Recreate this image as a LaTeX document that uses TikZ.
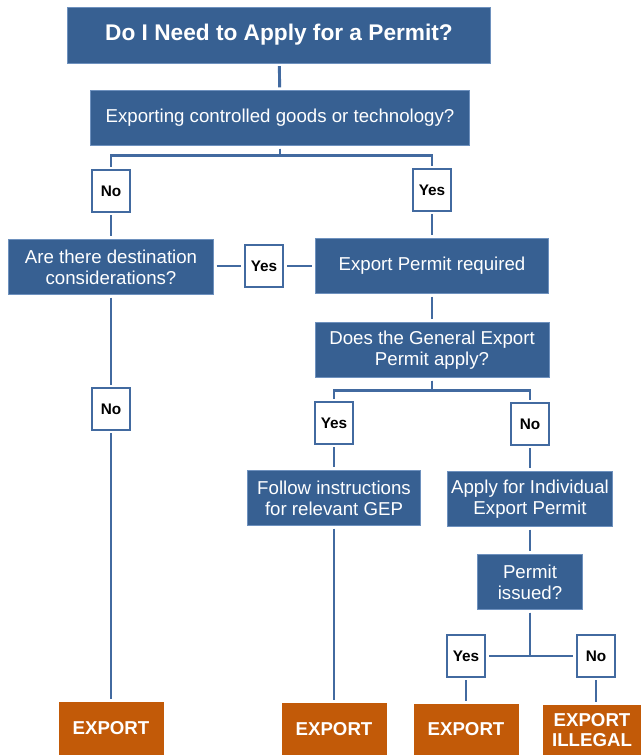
\documentclass[tikz,border=0pt]{standalone}
\usepackage{fontspec}
\setmainfont{Liberation Sans}
\usetikzlibrary{arrows,shapes}
\definecolor{boxblue}{RGB}{55,96,146}
\definecolor{rimblue}{RGB}{110,145,190}
\definecolor{lineblue}{RGB}{66,106,160}
\definecolor{exportorange}{RGB}{194,90,8}
\tikzstyle{question}=[rectangle, fill=boxblue, draw=rimblue
,line width=0.6pt
,text=white, align=center
,inner sep=0pt
,minimum height=41.25pt
,font=\fontsize{14}{16}\selectfont
]
\tikzstyle{answer}=[rectangle, fill=white, draw=lineblue
,line width=1.6pt
,minimum width=29pt, minimum height=31pt
,inner sep=0pt
,font=\bfseries\fontsize{11.5}{13}\selectfont
]
\tikzstyle{outcome}=[rectangle, fill=exportorange
,text=white, align=center
,inner sep=0pt
,font=\bfseries\fontsize{14}{15.5}\selectfont
]
\tikzstyle{edge} = [draw,lineblue,line width=2.2pt,shorten <=2pt,shorten >=2pt,-]

\begin{document}
\begin{tikzpicture}[x=0.75pt,y=-0.75pt]
    \useasboundingbox (0,0) rectangle (641,755);
    % The blue boxes: title, questions and steps
    \node[question, minimum width=317.25pt, minimum height=42pt,
          font=\bfseries\fontsize{17}{19}\selectfont] (title) at (279,35) {Do I Need to Apply for a Permit?};
    \foreach \pos/\w/\name/\txt in {{(280,118)/284.25pt/q1/{Exporting controlled goods or technology?}},
        {(111,267)/153.75pt/q2/{Are there destination\\considerations?}},
        {(432,266)/174.75pt/epr/{Export Permit required}},
        {(432,350)/175.5pt/q3/{Does the General Export\\Permit apply?}},
        {(334,498)/129.75pt/follow/{Follow instructions\\for relevant GEP}},
        {(530,499)/123.75pt/apply/{Apply for Individual\\Export Permit}},
        {(530,582)/78.75pt/issued/{Permit\\issued?}}}
        \node[question, minimum width=\w] (\name) at \pos {\txt};

    % The Yes / No labels
    \foreach \pos/\name/\txt in {{(111,191)/no1/No}, {(432,190)/yes1/Yes}, {(264,266)/yes2/Yes}, {(111,409)/no2/No}, {(334,423)/yes3/Yes}, {(530,424)/no3/No}, {(466,656)/yes4/Yes}, {(596,656)/no4/No}}
        \node[answer] (\name) at \pos {\txt};

    % The outcomes at the bottom
    \foreach \pos/\w/\h/\name/\txt in {{(111,728.5)/78.75pt/39.75pt/out1/EXPORT}, {(334,729)/78.75pt/39pt/out2/EXPORT}, {(466,729.5)/78.75pt/38.25pt/out3/EXPORT}, {(592,730)/73.5pt/37.5pt/out4/{EXPORT\\ILLEGAL}}}
        \node[outcome, minimum width=\w, minimum height=\h] (\name) at \pos {\txt};

    % Connect boxes and labels
    \path[edge] (title) -- (q1);
    \path[edge] (q1.south) -- ++(0,10) -| (no1);
    \path[edge] (q1.south) -- ++(0,10) -| (yes1);
    \path[edge] (q2.east |- yes2) -- (yes2.west);
    \path[edge] (yes2.east) -- (epr.west |- yes2);
    \foreach \source/ \dest in {no1/q2, yes1/epr, q2/no2, no2/out1, epr/q3, yes3/follow, follow/out2, no3/apply, apply/issued, yes4/out3}
        \path[edge] (\source) -- (\dest) ;
    \path[edge] (no4) -- (no4 |- out4.north);
    \path[edge] (q3.south) -- ++(0,13) -| (yes3);
    \path[edge] (q3.south) -- ++(0,13) -| (no3);
    \path[edge] (issued.south) |- (yes4.east);
    \path[edge] (issued.south) |- (no4.west);
\end{tikzpicture}
\end{document}
